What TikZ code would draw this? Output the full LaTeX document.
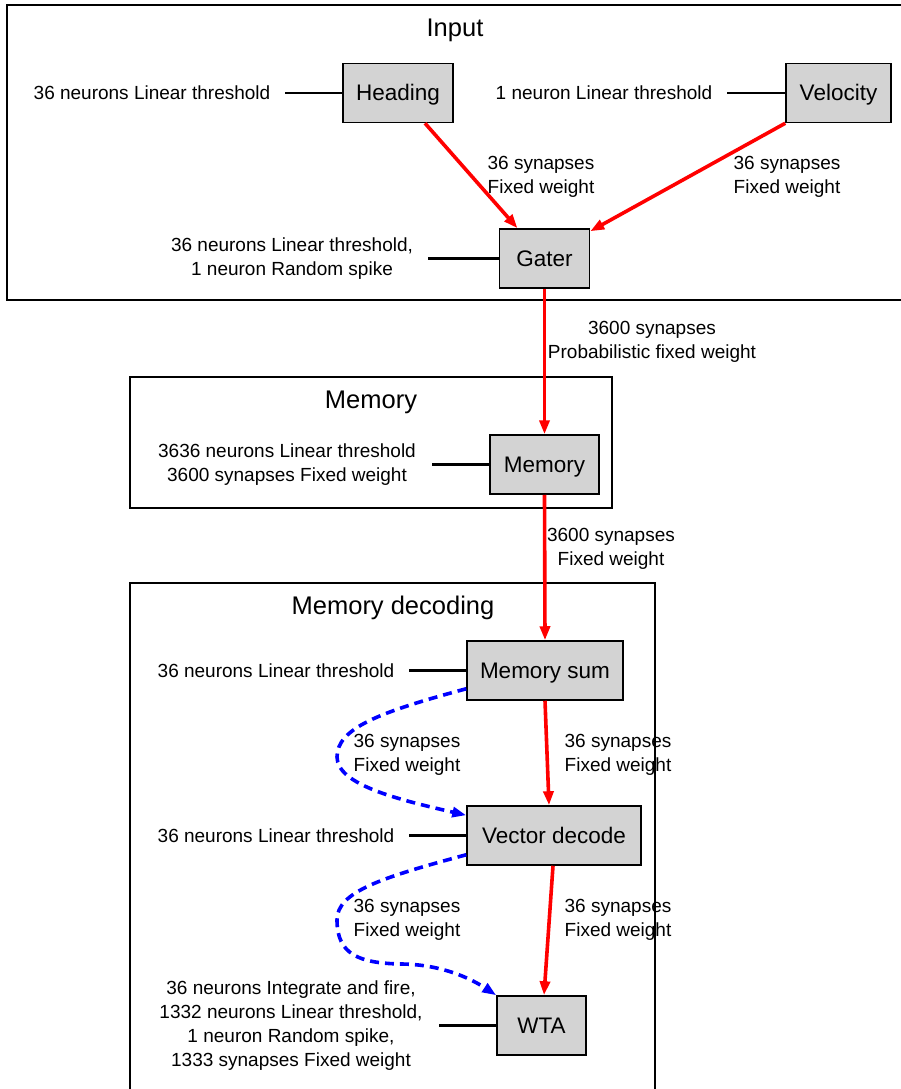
\documentclass[tikz,border=0pt]{standalone}
\usepackage{fontspec}
\setmainfont{Liberation Sans}
\usetikzlibrary{arrows.meta}
\definecolor{cellgray}{HTML}{D3D3D3}

\begin{document}
\begin{tikzpicture}[x=1pt, y=-1pt,
  cell/.style={draw, line width=1.5pt, fill=cellgray, minimum height=59pt, inner sep=0pt, text height=16pt, text depth=1pt, font=\fontsize{22.5}{27}\selectfont},
  note/.style={inner sep=0pt, align=center, font=\fontsize{19}{24}\selectfont},
  lbl/.style={inner sep=0pt, align=center, yshift=-2pt, font=\fontsize{19}{24}\selectfont},
  grp/.style={draw, line width=1.5pt},
  title/.style={inner sep=0pt, yshift=-3pt, font=\fontsize{25.5}{30}\selectfont},
  tie/.style={line width=2.2pt},
  fire/.style={-{Triangle[length=14pt,width=10pt]}, draw=red, line width=3.6pt},
  side/.style={fire, draw=blue, dash pattern=on 9pt off 6pt}]
\clip (0,0) rectangle (901,1089);
% clusters
\draw[grp] (7,5) rectangle (910,300);
\draw[grp] (130,377) rectangle (612,508);
\draw[grp] (130,583) rectangle (655,1100);
\node[title] (tinput) at (455,27) {Input};
\node[title] (tmem) at (371,399) {Memory};
\node[title] (tdec) at (393,605) {Memory decoding};
% cells
\node[cell, minimum width=110pt] (head) at (398,93) {Heading};
\node[cell, minimum width=105pt] (vel) at (838.5,93) {Velocity};
\node[cell, minimum width=90pt] (gate) at (544.5,258.5) {Gater};
\node[cell, minimum width=109pt] (mem) at (544.5,464.5) {Memory};
\node[cell, minimum width=156pt] (msum) at (545,670.5) {Memory sum};
\node[cell, minimum width=174pt] (vdec) at (554,835.5) {Vector decode};
\node[cell, minimum width=89pt] (wta) at (541.5,1025.5) {WTA};
% notes
\node[note, minimum width=266pt] (nhead) at (152,93) {36 neurons Linear threshold};
\node[note, minimum width=246pt] (nvel) at (604,93) {1 neuron Linear threshold};
\node[note, minimum width=272pt] (ngate) at (292,258.5) {36 neurons Linear threshold,\\1 neuron Random spike};
\node[note, minimum width=290pt] (nmem) at (287,464.5) {3636 neurons Linear threshold\\3600 synapses Fixed weight};
\node[note, minimum width=266pt] (nmsum) at (276,670.5) {36 neurons Linear threshold};
\node[note, minimum width=266pt] (nvdec) at (276,835.5) {36 neurons Linear threshold};
\node[note, minimum width=296pt] (nwta) at (291,1025.5) {36 neurons Integrate and fire,\\1332 neurons Linear threshold,\\1 neuron Random spike,\\1333 synapses Fixed weight};
\draw[tie] (nhead) -- (head);
\draw[tie] (nvel) -- (vel);
\draw[tie] (ngate) -- (gate);
\draw[tie] (nmem) -- (mem);
\draw[tie] (nmsum) -- (msum);
\draw[tie] (nvdec) -- (vdec);
\draw[tie] (nwta) -- (wta);
% synapses
\draw[fire] ([xshift=27pt]head.south) -- ([xshift=-27pt]gate.north);
\draw[fire] (vel.south west) -- ([yshift=-3pt]gate.north east);
\draw[fire] (gate.south) -- (mem.north);
\draw[fire] (mem.south) -- (msum.north);
\draw[fire] (msum.south) -- ([xshift=-5pt]vdec.north);
\draw[fire] ([xshift=-1pt]vdec.south) -- ([xshift=2.5pt]wta.north);
\draw[side] ([yshift=12pt]msum.south west) .. controls (380,712) and (337,728) .. (337,757)
  .. controls (337,785) and (400,800) .. ([yshift=-10pt]vdec.north west);
\draw[side] ([yshift=11pt]vdec.south west) .. controls (380,878) and (337,892) .. (337,920)
  .. controls (337,955) and (360,963) .. (400,964) .. controls (440,964) and (470,978) .. (wta.north west);
% synapse labels
\node[lbl] (lhead) at (541,175) {36 synapses\\Fixed weight};
\node[lbl] (lvel) at (787,175) {36 synapses\\Fixed weight};
\node[lbl] (lgate) at (652,340) {3600 synapses\\Probabilistic fixed weight};
\node[lbl] (lmem) at (611,547) {3600 synapses\\Fixed weight};
\node[lbl] (lmsum) at (618,753) {36 synapses\\Fixed weight};
\node[lbl] (lvdec) at (618,918) {36 synapses\\Fixed weight};
\node[lbl] (lside1) at (407,753) {36 synapses\\Fixed weight};
\node[lbl] (lside2) at (407,918) {36 synapses\\Fixed weight};
\end{tikzpicture}
\end{document}
